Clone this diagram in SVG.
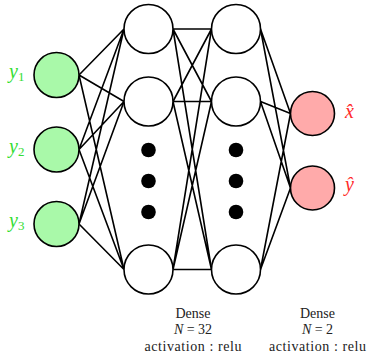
<svg xmlns="http://www.w3.org/2000/svg" width="368" height="354" viewBox="0 0 368 354">
<style>
.c{stroke:#000;stroke-width:1.6;fill:#fff}
.in{fill:#a9f9a9}
.out{fill:#ffaaaa}
.e{stroke:#000;stroke-width:1.6;fill:none}
.dot{fill:#000}
.lab{font-family:"Liberation Serif","DejaVu Serif",serif;font-style:italic}
.g{fill:#33dd33}
.r{fill:#ff2a2a}
.t{font-family:"Liberation Serif","DejaVu Serif",serif;font-size:14px;fill:#222;text-anchor:middle}
</style>
<rect width="368" height="354" fill="#fff"/>
<g id="connectors">
<path class="e" d="M79,75 L124,29 M79,75 L124,101.5 M79,75 L124,269.5
M79,149.5 L124,29 M79,149.5 L124,101.5 M79,149.5 L124,269.5
M79,224 L124,29 M79,224 L124,101.5 M79,224 L124,269.5"/>
<path class="e" d="M173,29 L211.5,29 M173,29 L211.5,101.5 M173,29 L211.5,269.5
M173,101.5 L211.5,29 M173,101.5 L211.5,101.5 M173,101.5 L211.5,269.5
M173,269.5 L211.5,29 M173,269.5 L211.5,101.5 M173,269.5 L211.5,269.5"/>
<path class="e" d="M260.5,29 L290.5,113.5 M260.5,29 L290.5,188
M260.5,101.5 L290.5,113.5 M260.5,101.5 L290.5,188
M260.5,269.5 L290.5,113.5 M260.5,269.5 L290.5,188"/>
</g>
<g id="y1"><circle class="c in" cx="56.5" cy="75" r="22.5"/><text class="lab g" x="9" y="78" font-size="20">y<tspan font-size="13" font-style="normal" dy="3">1</tspan></text></g>
<g id="y2"><circle class="c in" cx="56.5" cy="149.5" r="22.5"/><text class="lab g" x="9" y="152.5" font-size="20">y<tspan font-size="13" font-style="normal" dy="3">2</tspan></text></g>
<g id="y3"><circle class="c in" cx="56.5" cy="224" r="22.5"/><text class="lab g" x="9" y="227" font-size="20">y<tspan font-size="13" font-style="normal" dy="3">3</tspan></text></g>
<g id="h1a"><circle class="c" cx="148.5" cy="29" r="24.5"/></g>
<g id="h1b"><circle class="c" cx="148.5" cy="101.5" r="24.5"/></g>
<g id="h1dots"><circle class="dot" cx="148.5" cy="150" r="7.3"/><circle class="dot" cx="148.5" cy="181" r="7.3"/><circle class="dot" cx="148.5" cy="212" r="7.3"/></g>
<g id="h1c"><circle class="c" cx="148.5" cy="269.5" r="24.5"/></g>
<g id="h2a"><circle class="c" cx="236" cy="29" r="24.5"/></g>
<g id="h2b"><circle class="c" cx="236" cy="101.5" r="24.5"/></g>
<g id="h2dots"><circle class="dot" cx="236" cy="150" r="7.3"/><circle class="dot" cx="236" cy="181" r="7.3"/><circle class="dot" cx="236" cy="212" r="7.3"/></g>
<g id="h2c"><circle class="c" cx="236" cy="269.5" r="24.5"/></g>
<g id="xhat"><circle class="c out" cx="312.5" cy="113.5" r="22"/><text class="lab r" x="345" y="118" font-size="20">x̂</text></g>
<g id="yhat"><circle class="c out" cx="312.5" cy="188" r="22"/><text class="lab r" x="345" y="191" font-size="20">ŷ</text></g>
<g id="label1">
<text class="t" x="193" y="318">Dense</text>
<text class="t" x="193" y="334"><tspan font-style="italic">N</tspan> = 32</text>
<text class="t" x="193" y="351" textLength="97" lengthAdjust="spacing">activation : relu</text>
</g>
<g id="label2">
<text class="t" x="317.5" y="318">Dense</text>
<text class="t" x="317.5" y="334"><tspan font-style="italic">N</tspan> = 2</text>
<text class="t" x="317.5" y="351" textLength="97" lengthAdjust="spacing">activation : relu</text>
</g>
</svg>
